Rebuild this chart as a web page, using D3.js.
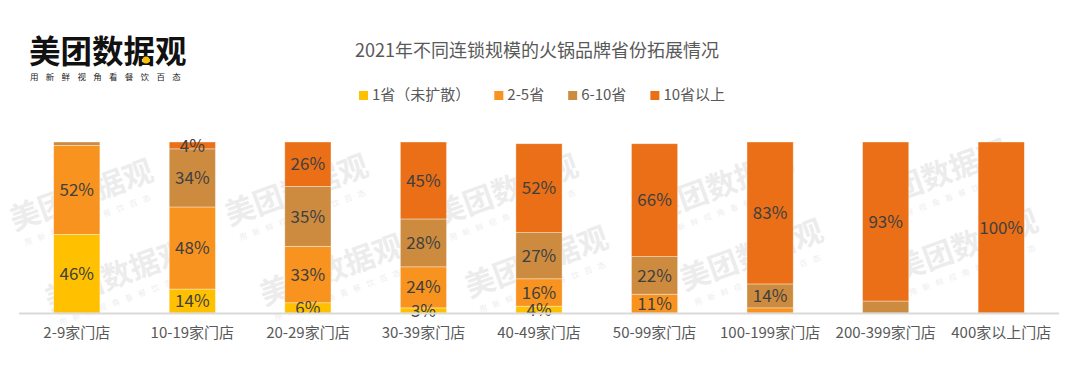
<!DOCTYPE html>
<html>
<head>
<meta charset="utf-8">
<script src="https://cdn.jsdelivr.net/npm/d3@7"></script>
<style>
  html, body { margin: 0; padding: 0; background: #fff; }
  svg { display: block; font-family: "Noto Sans CJK SC", "Noto Sans", sans-serif; }
</style>
</head>
<body>
<div id="chart"></div>
<script>
// datos
const categories = ["2-9家门店", "10-19家门店", "20-29家门店", "30-39家门店", "40-49家门店",
  "50-99家门店", "100-199家门店", "200-399家门店", "400家以上门店"];
const seriesNames = ["1省（未扩散）", "2-5省", "6-10省", "10省以上"];
const seriesColors = ["#FFC000", "#F7931E", "#CD8B3F", "#EA6F17"];

const oneProvince = [46, 14, 6, 3, 4, 0, 0, 0, 0];
const twoToFive   = [52, 48, 33, 24, 16, 11, 3, 0, 0];
const sixToTen    = [2, 34, 35, 28, 27, 22, 14, 7, 0];
const tenPlus     = [0, 4, 26, 45, 52, 66, 83, 93, 100];

// etiquetas que no se muestran en el original
const hiddenLabels = [["2-9家门店", "6-10省"], ["100-199家门店", "2-5省"], ["200-399家门店", "6-10省"]];

const W = 1080, H = 373;
const svg = d3.select("#chart").append("svg").attr("width", W).attr("height", H);

// marca de agua (fondo)
const wm = svg.append("g").attr("class", "watermark");
const wmPos = [[85, 205], [300, 200], [510, 200], [725, 195], [940, 185],
               [120, 285], [335, 280], [540, 272], [755, 265], [970, 255]];
wmPos.forEach(([x, y]) => {
  const g = wm.append("g").attr("transform", `translate(${x},${y}) rotate(-20)`);
  g.append("text").attr("text-anchor", "middle").attr("font-size", 30).attr("font-weight", 700)
    .attr("fill", "#000").attr("opacity", 0.07).text("美团数据观");
  g.append("text").attr("text-anchor", "middle").attr("y", 18).attr("font-size", 8)
    .attr("letter-spacing", 6).attr("fill", "#000").attr("opacity", 0.07).text("用新鲜视角看餐饮百态");
});

// logo
svg.append("text").attr("x", 29).attr("y", 63).attr("font-size", 31.5).attr("font-weight", 700)
  .attr("fill", "#111").text("美团数据观");
svg.append("circle").attr("cx", 146).attr("cy", 60).attr("r", 3.5).attr("fill", "#FFC000");
svg.append("text").attr("x", 30).attr("y", 80).attr("font-size", 8.5).attr("letter-spacing", 7.3)
  .attr("fill", "#222").text("用新鲜视角看餐饮百态");

// titulo
svg.append("text").attr("x", 537).attr("y", 57).attr("text-anchor", "middle")
  .attr("font-size", 18).attr("fill", "#595959").text("2021年不同连锁规模的火锅品牌省份拓展情况");

// escalas
const x = d3.scaleBand().domain(categories).range([19, 1059]).paddingInner(0.6).paddingOuter(0.3);
const y = d3.scaleLinear().domain([0, 100]).range([313, 142]);

const table = categories.map((c, i) => ({
  cat: c,
  "1省（未扩散）": oneProvince[i],
  "2-5省": twoToFive[i],
  "6-10省": sixToTen[i],
  "10省以上": tenPlus[i]
}));
const stacked = d3.stack().keys(seriesNames)(table);

const g = svg.append("g");
stacked.forEach((layer, si) => {
  g.selectAll(null).data(layer.filter(d => d[1] > d[0])).enter().append("rect")
    .attr("x", d => x(d.data.cat))
    .attr("width", x.bandwidth())
    .attr("y", d => y(d[1]))
    .attr("height", d => y(d[0]) - y(d[1]))
    .attr("fill", seriesColors[si])
    .attr("stroke", "#fff").attr("stroke-opacity", 0.5).attr("stroke-width", 0.75);
});

// etiquetas de valores
const isHidden = (cat, s) => hiddenLabels.some(h => h[0] === cat && h[1] === s);
stacked.forEach((layer) => {
  g.selectAll(null).data(layer.filter(d => d[1] > d[0] && !isHidden(d.data.cat, layer.key))).enter()
    .append("text")
    .attr("x", d => x(d.data.cat) + x.bandwidth() / 2)
    .attr("y", d => (y(d[0]) + y(d[1])) / 2)
    .attr("dy", "0.36em")
    .attr("text-anchor", "middle")
    .attr("font-size", 17)
    .attr("fill", "#404040")
    .text(d => (d[1] - d[0]) + "%");
});

// eje x
const xAxis = svg.append("g").attr("transform", "translate(0,313)")
  .call(d3.axisBottom(x).tickSize(0).tickPadding(14));
xAxis.select(".domain").attr("stroke", "#d9d9d9").attr("stroke-width", 2)
  .attr("d", "M19,0.5H1059");
xAxis.selectAll("text").attr("font-size", 15).attr("fill", "#595959")
  .attr("font-family", "'Noto Sans CJK SC', sans-serif");

// leyenda
const legend = svg.append("g").attr("transform", "translate(0,95)");
let lx = 359;
seriesNames.forEach((name, i) => {
  legend.append("rect").attr("x", lx).attr("y", -4).attr("width", 9).attr("height", 9)
    .attr("fill", seriesColors[i]);
  const t = legend.append("text").attr("x", lx + 13).attr("y", 0).attr("dy", "0.36em")
    .attr("font-size", 15).attr("fill", "#595959").text(name);
  lx += 13 + t.node().getComputedTextLength() + 24;
});
</script>
</body>
</html>
